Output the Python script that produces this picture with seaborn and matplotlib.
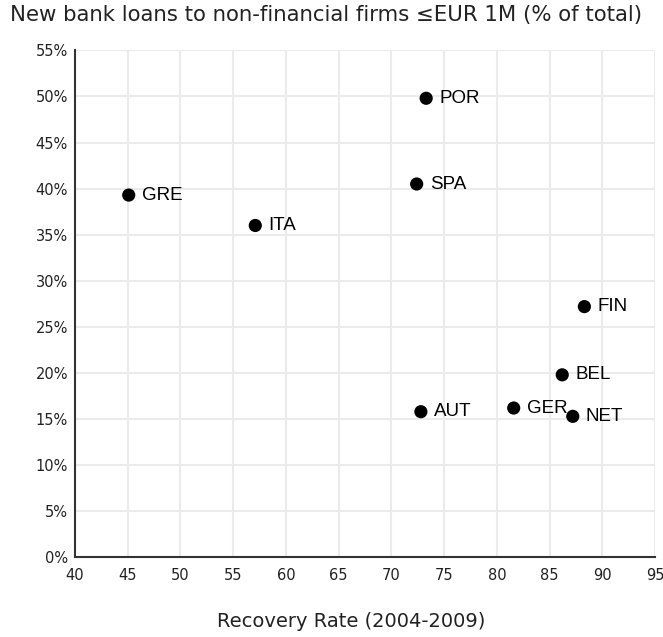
import matplotlib
matplotlib.use("Agg")
from matplotlib import pyplot as plt
from matplotlib.ticker import PercentFormatter
import pandas as pd
import seaborn as sns

# values
countries = ["GRE", "ITA", "SPA", "POR", "AUT", "GER", "BEL", "NET", "FIN"]
recovery = [45.1, 57.1, 72.4, 73.3, 72.8, 81.6, 86.2, 87.2, 88.3]
small_loans = [39.3, 36.0, 40.5, 49.8, 15.8, 16.2, 19.8, 15.3, 27.2]

x_ticks = list(range(40, 96, 5))
y_ticks = list(range(0, 56, 5))

df = pd.DataFrame({"country": countries, "recovery": recovery, "share": small_loans})

sns.set_style("whitegrid", {"grid.color": "#ebebeb", "axes.edgecolor": "#333333"})
plt.rcParams["font.family"] = ["DejaVu Sans"]

fig = plt.figure(figsize=(6.63, 6.37), dpi=100)
ax = fig.add_axes([0.113, 0.125, 0.875, 0.796])

sns.scatterplot(data=df, x="recovery", y="share", color="black", s=90,
                edgecolor="none", ax=ax, legend=False, zorder=3)

for _, row in df.iterrows():
    ax.annotate(row["country"], (row["recovery"], row["share"]),
                xytext=(9.5, 0), textcoords="offset points", va="center",
                ha="left", fontsize=13.5, family="Liberation Sans", color="black")

ax.set_xlim(40, 95)
ax.set_ylim(0, 55)
ax.set_xticks(x_ticks)
ax.set_yticks(y_ticks)
ax.yaxis.set_major_formatter(PercentFormatter(decimals=0))
ax.tick_params(axis="both", direction="inout", length=8, width=1.2,
               color="#333333", labelsize=10.5, labelcolor="#222222")
ax.tick_params(axis="x", pad=4)
ax.tick_params(axis="y", pad=1)
for s in ["top", "right"]:
    ax.spines[s].set_visible(False)
for s in ["left", "bottom"]:
    ax.spines[s].set_linewidth(1.5)
    ax.spines[s].set_color("#333333")
ax.grid(True, color="#ebebeb", linewidth=1.5)
ax.set_axisbelow(True)

ax.set_xlabel("Recovery Rate (2004-2009)", fontsize=14, color="#222222")
ax.xaxis.set_label_coords(0.477, -0.108)
ax.set_ylabel("")
fig.text(0.015, 0.976, "New bank loans to non-financial firms \u2264EUR 1M (% of total)",
         fontsize=15.3, ha="left", va="center", color="#222222")

fig.savefig("out.png", dpi=100)
